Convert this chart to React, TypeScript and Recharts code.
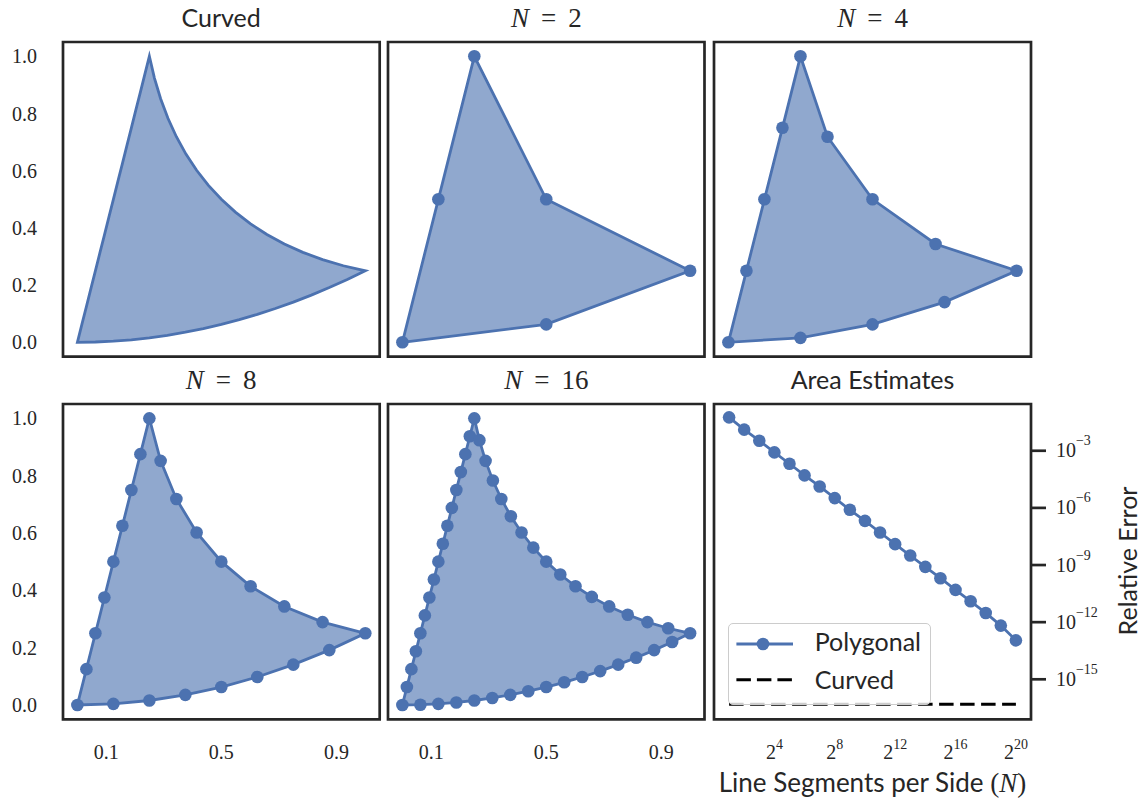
import React from "react";
import {
  ComposedChart,
  Legend,
  Line,
  ReferenceArea,
  Scatter,
  ScatterChart,
  XAxis,
  YAxis,
} from "recharts";

const BLUE = "#4c72b0";
const INK = "#262626";
const SANS = "Lato, 'DejaVu Sans', sans-serif";
const SERIF = "'Liberation Serif', 'DejaVu Serif', serif";

// polygon vertices, walked A(0,0) -> B(0.25,1) -> C(1,0.25) -> back towards A
const polygon2 = [
  { x: 0, y: 0 }, { x: 0.125, y: 0.5 }, { x: 0.25, y: 1 },
  { x: 0.5, y: 0.5 }, { x: 1, y: 0.25 }, { x: 0.5, y: 0.0625 },
];

const polygon4 = [
  { x: 0, y: 0 }, { x: 0.0625, y: 0.25 }, { x: 0.125, y: 0.5 }, { x: 0.1875, y: 0.75 },
  { x: 0.25, y: 1 }, { x: 0.3438, y: 0.7188 }, { x: 0.5, y: 0.5 }, { x: 0.7188, y: 0.3438 },
  { x: 1, y: 0.25 }, { x: 0.75, y: 0.1406 }, { x: 0.5, y: 0.0625 }, { x: 0.25, y: 0.0156 },
];

const polygon8 = [
  { x: 0, y: 0 }, { x: 0.0313, y: 0.125 }, { x: 0.0625, y: 0.25 }, { x: 0.0938, y: 0.375 },
  { x: 0.125, y: 0.5 }, { x: 0.1563, y: 0.625 }, { x: 0.1875, y: 0.75 }, { x: 0.2188, y: 0.875 },
  { x: 0.25, y: 1 }, { x: 0.2891, y: 0.8516 }, { x: 0.3438, y: 0.7188 }, { x: 0.4141, y: 0.6016 },
  { x: 0.5, y: 0.5 }, { x: 0.6016, y: 0.4141 }, { x: 0.7188, y: 0.3438 }, { x: 0.8516, y: 0.2891 },
  { x: 1, y: 0.25 }, { x: 0.875, y: 0.1914 }, { x: 0.75, y: 0.1406 }, { x: 0.625, y: 0.0977 },
  { x: 0.5, y: 0.0625 }, { x: 0.375, y: 0.0352 }, { x: 0.25, y: 0.0156 }, { x: 0.125, y: 0.0039 },
];

const polygon16 = [
  { x: 0, y: 0 }, { x: 0.0156, y: 0.0625 }, { x: 0.0313, y: 0.125 }, { x: 0.0469, y: 0.1875 },
  { x: 0.0625, y: 0.25 }, { x: 0.0781, y: 0.3125 }, { x: 0.0938, y: 0.375 }, { x: 0.1094, y: 0.4375 },
  { x: 0.125, y: 0.5 }, { x: 0.1406, y: 0.5625 }, { x: 0.1563, y: 0.625 }, { x: 0.1719, y: 0.6875 },
  { x: 0.1875, y: 0.75 }, { x: 0.2031, y: 0.8125 }, { x: 0.2188, y: 0.875 }, { x: 0.2344, y: 0.9375 },
  { x: 0.25, y: 1 }, { x: 0.2676, y: 0.9238 }, { x: 0.2891, y: 0.8516 }, { x: 0.3145, y: 0.7832 },
  { x: 0.3438, y: 0.7188 }, { x: 0.377, y: 0.6582 }, { x: 0.4141, y: 0.6016 }, { x: 0.4551, y: 0.5488 },
  { x: 0.5, y: 0.5 }, { x: 0.5488, y: 0.4551 }, { x: 0.6016, y: 0.4141 }, { x: 0.6582, y: 0.377 },
  { x: 0.7188, y: 0.3438 }, { x: 0.7832, y: 0.3145 }, { x: 0.8516, y: 0.2891 }, { x: 0.9238, y: 0.2676 },
  { x: 1, y: 0.25 }, { x: 0.9375, y: 0.2197 }, { x: 0.875, y: 0.1914 }, { x: 0.8125, y: 0.165 },
  { x: 0.75, y: 0.1406 }, { x: 0.6875, y: 0.1182 }, { x: 0.625, y: 0.0977 }, { x: 0.5625, y: 0.0791 },
  { x: 0.5, y: 0.0625 }, { x: 0.4375, y: 0.0479 }, { x: 0.375, y: 0.0352 }, { x: 0.3125, y: 0.0244 },
  { x: 0.25, y: 0.0156 }, { x: 0.1875, y: 0.0088 }, { x: 0.125, y: 0.0039 }, { x: 0.0625, y: 0.001 },
];

// the curved outline is traced through the same boundary points, no markers
const curvedOutline = polygon16;

const shapeXTicks = [0.1, 0.5, 0.9];
const shapeYTicks = [0, 0.2, 0.4, 0.6, 0.8, 1.0];
const SHAPE_DOMAIN: [number, number] = [-0.05, 1.05];

const segmentCounts = [
  2, 4, 8, 16, 32, 64, 128, 256, 512, 1024,
  2048, 4096, 8192, 16384, 32768, 65536, 131072, 262144, 524288, 1048576,
];
const polygonalError = [
  5.68e-2, 1.28e-2, 3.37e-3, 8.2e-4, 2.08e-4, 5.07e-5, 1.34e-5, 3.26e-6, 7.94e-7, 2.09e-7,
  5.11e-8, 1.25e-8, 3.16e-9, 8.0e-10, 2.03e-10, 4.94e-11, 1.25e-11, 3.05e-12, 6.59e-13, 1.11e-13,
];
const curvedError = [
  4.9e-17, 4.9e-17, 4.9e-17, 4.9e-17, 4.9e-17, 4.9e-17, 4.9e-17, 4.9e-17, 4.9e-17, 4.9e-17,
  4.9e-17, 4.9e-17, 4.9e-17, 4.9e-17, 4.9e-17, 4.9e-17, 4.9e-17, 4.9e-17, 4.9e-17, 4.9e-17,
];
const segmentTickExps = [4, 8, 12, 16, 20];
const errorTickExps = [-3, -6, -9, -12, -15];
const N_DOMAIN: [number, number] = [1, 2097152];
const ERR_DOMAIN: [number, number] = [Math.pow(10, -17.1), Math.pow(10, -0.545)];

const COLS: [number, number][] = [[62.8, 379.5], [388, 704.5], [714, 1031]];
const ROWS: [number, number][] = [[42.2, 356.8], [404.2, 719.5]];
const PAD = 4;

const polygonOutline = (props: any) => {
  const pts = (props.points || []) as { x: number; y: number }[];
  const d = pts.map((p, i) => `${i ? "L" : "M"}${p.x},${p.y}`).join("") + "Z";
  return (
    <path
      d={d}
      fill={BLUE}
      fillOpacity={0.62}
      stroke={BLUE}
      strokeWidth={2.8}
      strokeLinejoin="miter"
      strokeMiterlimit={10}
    />
  );
};

const vertexDot = (props: any) => <circle cx={props.cx} cy={props.cy} r={6.3} fill={BLUE} />;
const noDot = () => <g />;

interface PanelProps {
  col: number;
  row: number;
  points: { x: number; y: number }[];
  markers: boolean;
  showX: boolean;
  showY: boolean;
}

function ShapePanel({ col, row, points, markers, showX, showY }: PanelProps) {
  const [x0, x1] = COLS[col];
  const [y0, y1] = ROWS[row];
  const yW = showY ? 63 : 0;
  const xH = showX ? 50 : 0;
  return (
    <div style={{ position: "absolute", left: x0 - PAD - yW, top: y0 - PAD }}>
      <ScatterChart
        width={x1 - x0 + 2 * PAD + yW}
        height={y1 - y0 + 2 * PAD + xH}
        margin={{ top: PAD, right: PAD, bottom: PAD, left: PAD }}
      >
        <XAxis
          type="number"
          dataKey="x"
          domain={SHAPE_DOMAIN}
          allowDataOverflow
          ticks={shapeXTicks}
          interval={0}
          tickFormatter={(v: number) => v.toFixed(1)}
          hide={!showX}
          height={xH}
          axisLine={false}
          tickLine={false}
          tickSize={0}
          tickMargin={25.6}
          tick={{ fontFamily: SERIF, fontSize: 20, fill: INK }}
        />
        <YAxis
          type="number"
          dataKey="y"
          domain={SHAPE_DOMAIN}
          allowDataOverflow
          ticks={shapeYTicks}
          interval={0}
          tickFormatter={(v: number) => v.toFixed(1)}
          hide={!showY}
          width={yW}
          axisLine={false}
          tickLine={false}
          tickSize={0}
          tickMargin={26}
          tick={{ fontFamily: SERIF, fontSize: 20, fill: INK }}
        />
        <Scatter
          data={points}
          fill={BLUE}
          line={polygonOutline}
          lineType="joint"
          shape={markers ? vertexDot : noDot}
          isAnimationActive={false}
        />
        <ReferenceArea
          x1={SHAPE_DOMAIN[0]}
          x2={SHAPE_DOMAIN[1]}
          y1={SHAPE_DOMAIN[0]}
          y2={SHAPE_DOMAIN[1]}
          fill="none"
          stroke={INK}
          strokeWidth={2.7}
          ifOverflow="visible"
        />
      </ScatterChart>
    </div>
  );
}

const Pow2Tick = ({ x, y, payload }: any) => (
  <text x={x} y={y + 39.5} textAnchor="middle" fill={INK} fontFamily={SERIF} fontSize={20}>
    2
    <tspan dy={-10} fontSize={14}>
      {Math.round(Math.log2(payload.value))}
    </tspan>
  </text>
);

const Pow10Tick = ({ x, y, payload }: any) => {
  const e = Math.round(Math.log10(payload.value));
  return (
    <text x={x} y={y + 6.6} textAnchor="start" fill={INK} fontFamily={SERIF} fontSize={20}>
      10
      <tspan dy={-12} fontSize={14}>
        {"\u2212" + Math.abs(e)}
      </tspan>
    </text>
  );
};

const ErrorLegend = () => (
  <div
    style={{
      width: 203,
      height: 82,
      boxSizing: "border-box",
      border: "1px solid #cccccc",
      borderRadius: 5,
      background: "rgba(255,255,255,0.8)",
    }}
  >
    <svg width={201} height={80} style={{ display: "block" }}>
      <line x1={7.4} x2={64} y1={20} y2={20} stroke={BLUE} strokeWidth={2.8} />
      <circle cx={34} cy={20} r={6.3} fill={BLUE} />
      <text x={85.7} y={27.4} fontFamily={SANS} fontSize={25} fill={INK}>
        Polygonal
      </text>
      <line
        x1={7.4}
        x2={64}
        y1={55.7}
        y2={55.7}
        stroke="#000"
        strokeWidth={3}
        strokeDasharray="14.5 6"
      />
      <text x={85.7} y={64.7} fontFamily={SANS} fontSize={25} fill={INK}>
        Curved
      </text>
    </svg>
  </div>
);

function ErrorPanel() {
  const [x0, x1] = COLS[2];
  const [y0, y1] = ROWS[1];
  const axisW = 100;
  const axisH = 50;
  const rows = segmentCounts.map((n, i) => ({
    n,
    polygonal: polygonalError[i],
    curved: curvedError[i],
  }));
  const left = x0 - PAD;
  const top = y0 - PAD;
  return (
    <div style={{ position: "absolute", left, top }}>
      <ComposedChart
        width={x1 - x0 + 2 * PAD + axisW}
        height={y1 - y0 + 2 * PAD + axisH}
        data={rows}
        margin={{ top: PAD, right: PAD, bottom: PAD, left: PAD }}
      >
        <XAxis
          dataKey="n"
          type="number"
          scale="log"
          domain={N_DOMAIN}
          allowDataOverflow
          ticks={segmentTickExps.map((e) => Math.pow(2, e))}
          interval={0}
          tick={<Pow2Tick />}
          axisLine={false}
          tickLine={false}
          tickSize={0}
          tickMargin={0}
          height={axisH}
        />
        <YAxis
          orientation="right"
          type="number"
          scale="log"
          domain={ERR_DOMAIN}
          allowDataOverflow
          ticks={errorTickExps.map((e) => Math.pow(10, e))}
          interval={0}
          tick={<Pow10Tick />}
          axisLine={false}
          tickLine={{ stroke: INK, strokeWidth: 2.7 }}
          tickSize={15}
          tickMargin={10}
          width={axisW}
        />
        <Line
          dataKey="polygonal"
          stroke={BLUE}
          strokeWidth={2.8}
          dot={{ r: 6.3, fill: BLUE, stroke: BLUE, strokeWidth: 0 }}
          activeDot={false}
          isAnimationActive={false}
        />
        <Line
          dataKey="curved"
          stroke="#000"
          strokeWidth={3}
          strokeDasharray="14.5 6.5"
          dot={false}
          activeDot={false}
          isAnimationActive={false}
        />
        <ReferenceArea
          x1={N_DOMAIN[0]}
          x2={N_DOMAIN[1]}
          y1={ERR_DOMAIN[0]}
          y2={ERR_DOMAIN[1]}
          fill="none"
          stroke={INK}
          strokeWidth={2.7}
          ifOverflow="visible"
        />
        <Legend
          layout="horizontal"
          verticalAlign="middle"
          align="center"
          content={() => <ErrorLegend />}
          wrapperStyle={{ left: 728.3 - left, top: 623.3 - top, width: 203, height: 82 }}
        />
      </ComposedChart>
    </div>
  );
}

function MathTitle({ cx, y, n }: { cx: number; y: number; n: number }) {
  return (
    <text x={cx} y={y} textAnchor="middle" fontFamily={SERIF} fontSize={27} fill={INK}>
      <tspan fontStyle="italic">N</tspan>
      <tspan dx={12}>=</tspan>
      <tspan dx={12}>{n}</tspan>
    </text>
  );
}

export default function App() {
  const mid = (c: [number, number]) => (c[0] + c[1]) / 2;
  return (
    <div
      style={{
        position: "absolute",
        left: 0,
        top: 0,
        width: 1146,
        height: 801,
        background: "#fff",
        overflow: "hidden",
      }}
    >
      <ShapePanel col={0} row={0} points={curvedOutline} markers={false} showX={false} showY />
      <ShapePanel col={1} row={0} points={polygon2} markers showX={false} showY={false} />
      <ShapePanel col={2} row={0} points={polygon4} markers showX={false} showY={false} />
      <ShapePanel col={0} row={1} points={polygon8} markers showX showY />
      <ShapePanel col={1} row={1} points={polygon16} markers showX showY={false} />
      <ErrorPanel />
      <svg
        width={1146}
        height={801}
        style={{ position: "absolute", left: 0, top: 0, pointerEvents: "none" }}
      >
        <text x={mid(COLS[0])} y={26.5} textAnchor="middle" fontFamily={SANS} fontSize={25} fill={INK}>
          Curved
        </text>
        <MathTitle cx={mid(COLS[1])} y={26.5} n={2} />
        <MathTitle cx={mid(COLS[2])} y={26.5} n={4} />
        <MathTitle cx={mid(COLS[0])} y={389} n={8} />
        <MathTitle cx={mid(COLS[1])} y={389} n={16} />
        <text x={mid(COLS[2])} y={389} textAnchor="middle" fontFamily={SANS} fontSize={25} fill={INK}>
          Area Estimates
        </text>
        <text x={mid(COLS[2])} y={791.5} textAnchor="middle" fontFamily={SANS} fontSize={26} fill={INK}>
          Line Segments per Side{" "}
          <tspan fontFamily={SERIF} fontSize={27}>(</tspan>
          <tspan fontFamily={SERIF} fontSize={27} fontStyle="italic">N</tspan>
          <tspan fontFamily={SERIF} fontSize={27}>)</tspan>
        </text>
        <text
          transform="translate(1137,561) rotate(-90)"
          textAnchor="middle"
          fontFamily={SANS}
          fontSize={25}
          fill={INK}
        >
          Relative Error
        </text>
      </svg>
    </div>
  );
}
